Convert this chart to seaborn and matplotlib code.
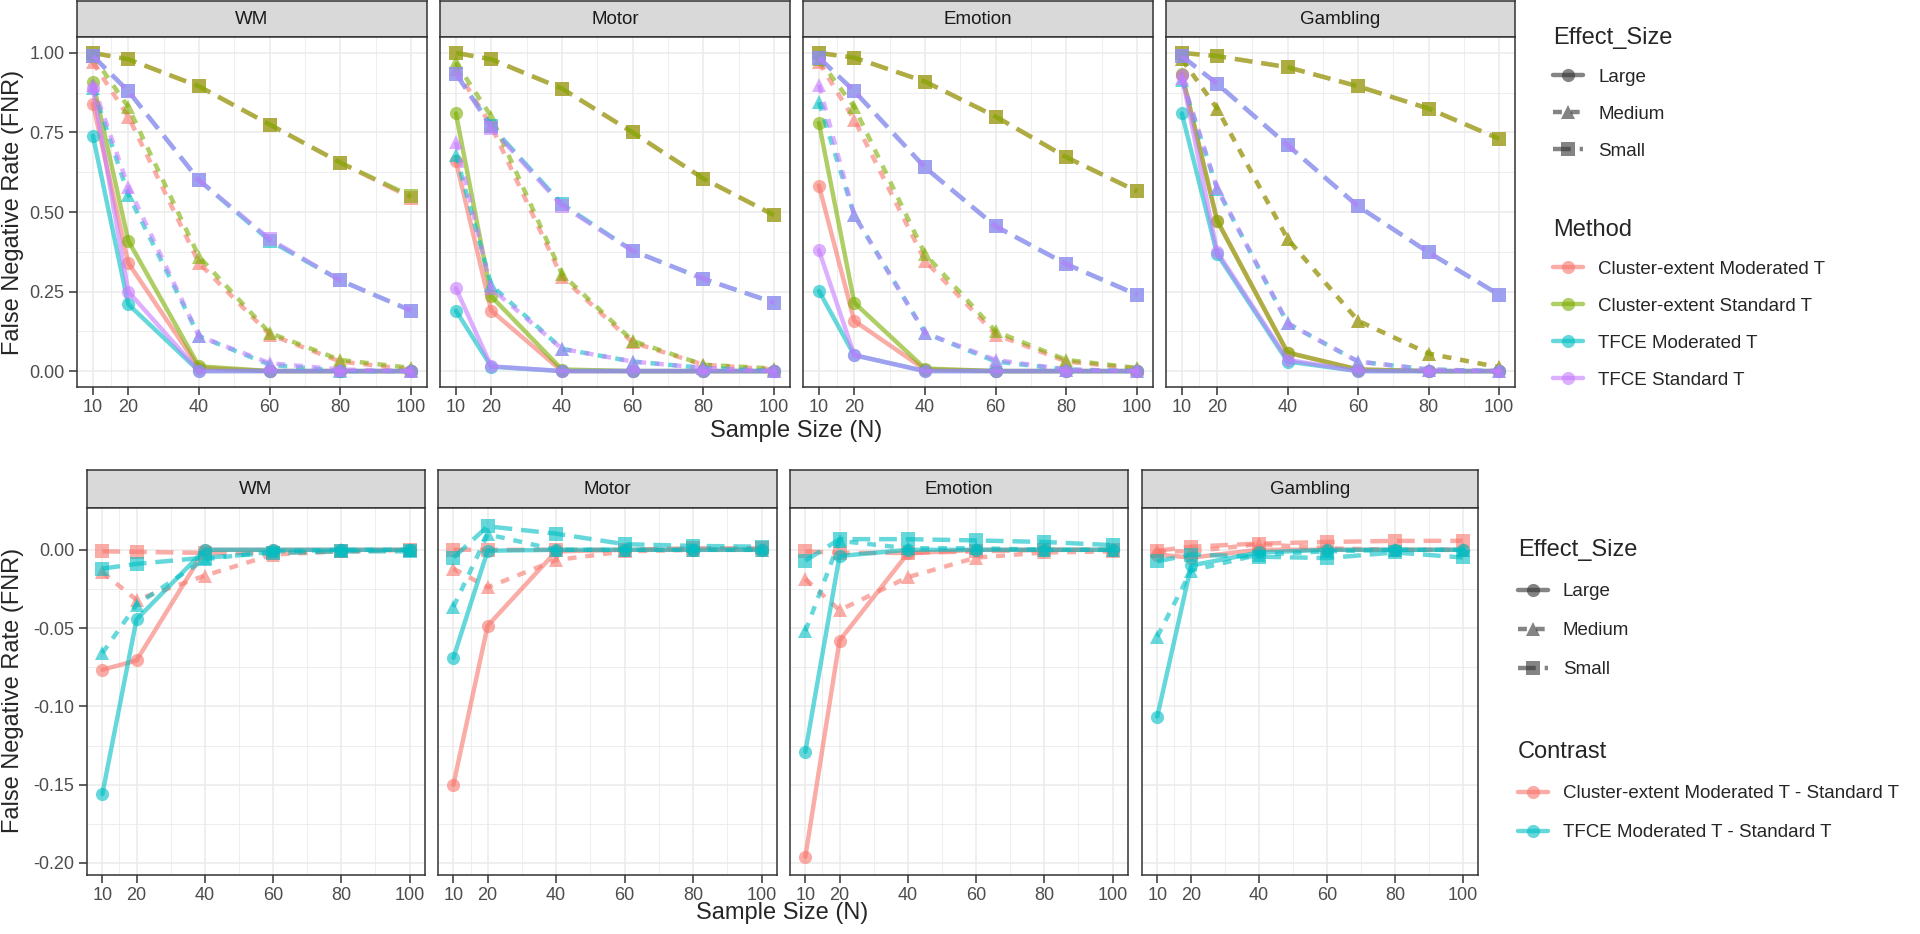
import numpy as np
import pandas as pd
import matplotlib
matplotlib.use("Agg")
import matplotlib.pyplot as plt
from matplotlib.lines import Line2D
from matplotlib.ticker import FixedLocator, FormatStrFormatter
import seaborn as sns

sample_sizes = [10, 20, 40, 60, 80, 100]
tasks = ["WM", "Motor", "Emotion", "Gambling"]
effect_sizes = ["Large", "Medium", "Small"]
methods = ["Cluster-extent Moderated T", "Cluster-extent Standard T",
           "TFCE Moderated T", "TFCE Standard T"]
contrasts = ["Cluster-extent Moderated T - Standard T",
             "TFCE Moderated T - Standard T"]

# FNR, one row per method (same order as `methods`)
wm_large = [[0.84, 0.34, 0.01, 0.0, 0.0, 0.0],
            [0.91, 0.41, 0.015, 0.0, 0.0, 0.0],
            [0.74, 0.21, 0.0, 0.0, 0.0, 0.0],
            [0.89, 0.25, 0.0, 0.0, 0.0, 0.0]]
wm_medium = [[0.97, 0.80, 0.34, 0.115, 0.03, 0.005],
             [0.99, 0.83, 0.36, 0.12, 0.035, 0.01],
             [0.89, 0.555, 0.11, 0.02, 0.0, 0.0],
             [0.90, 0.58, 0.11, 0.025, 0.005, 0.0]]
wm_small = [[1.00, 0.98, 0.895, 0.775, 0.655, 0.545],
            [1.00, 0.98, 0.895, 0.775, 0.655, 0.55],
            [0.99, 0.88, 0.60, 0.41, 0.285, 0.19],
            [0.99, 0.88, 0.60, 0.415, 0.285, 0.19]]

motor_large = [[0.66, 0.19, 0.0, 0.0, 0.0, 0.0],
               [0.81, 0.235, 0.005, 0.0, 0.0, 0.0],
               [0.19, 0.014, 0.0, 0.0, 0.0, 0.0],
               [0.26, 0.015, 0.0, 0.0, 0.0, 0.0]]
motor_medium = [[0.95, 0.77, 0.295, 0.09, 0.02, 0.005],
                [0.97, 0.80, 0.305, 0.095, 0.02, 0.008],
                [0.68, 0.27, 0.07, 0.03, 0.01, 0.0],
                [0.72, 0.26, 0.07, 0.03, 0.01, 0.0]]
motor_small = [[1.00, 0.98, 0.888, 0.75, 0.605, 0.49],
               [1.00, 0.98, 0.888, 0.75, 0.605, 0.49],
               [0.935, 0.77, 0.525, 0.378, 0.29, 0.215],
               [0.935, 0.765, 0.52, 0.378, 0.29, 0.215]]

emotion_large = [[0.583, 0.158, 0.005, 0.0, 0.0, 0.0],
                 [0.78, 0.215, 0.008, 0.0, 0.0, 0.0],
                 [0.252, 0.05, 0.0, 0.0, 0.0, 0.0],
                 [0.38, 0.05, 0.0, 0.0, 0.0, 0.0]]
emotion_medium = [[0.97, 0.79, 0.347, 0.115, 0.03, 0.008],
                  [0.98, 0.83, 0.368, 0.125, 0.035, 0.01],
                  [0.845, 0.49, 0.12, 0.03, 0.005, 0.0],
                  [0.90, 0.49, 0.12, 0.035, 0.005, 0.0]]
emotion_small = [[1.00, 0.985, 0.91, 0.80, 0.672, 0.565],
                 [1.00, 0.985, 0.91, 0.80, 0.672, 0.565],
                 [0.985, 0.88, 0.64, 0.455, 0.336, 0.24],
                 [0.985, 0.88, 0.64, 0.455, 0.336, 0.24]]

gambling_large = [[0.93, 0.473, 0.058, 0.005, 0.0, 0.0],
                  [0.935, 0.473, 0.058, 0.005, 0.0, 0.0],
                  [0.81, 0.368, 0.03, 0.0, 0.0, 0.0],
                  [0.93, 0.375, 0.035, 0.0, 0.0, 0.0]]
gambling_medium = [[0.98, 0.825, 0.415, 0.158, 0.055, 0.012],
                   [0.98, 0.825, 0.415, 0.158, 0.055, 0.012],
                   [0.915, 0.573, 0.15, 0.03, 0.005, 0.0],
                   [0.92, 0.575, 0.15, 0.03, 0.005, 0.0]]
gambling_small = [[1.00, 0.99, 0.955, 0.895, 0.825, 0.73],
                  [1.00, 0.99, 0.955, 0.895, 0.825, 0.73],
                  [0.99, 0.903, 0.71, 0.518, 0.373, 0.24],
                  [0.99, 0.903, 0.71, 0.518, 0.373, 0.24]]

# FNR differences, one row per contrast
wm_diff_large = [[-0.0766, -0.0707, 0.0, 0.0, 0.0, 0.0],
                 [-0.156, -0.0445, 0.0, 0.0, 0.0, 0.0]]
wm_diff_medium = [[-0.0143, -0.032, -0.0165, -0.003, -0.001, 0.0],
                  [-0.066, -0.035, -0.006, -0.001, 0.0, 0.0]]
wm_diff_small = [[-0.001, -0.0013, -0.002, -0.002, -0.001, 0.0],
                 [-0.012, -0.009, -0.005, -0.002, -0.001, -0.001]]

motor_diff_large = [[-0.150, -0.0485, -0.001, 0.0, 0.0, 0.0],
                    [-0.069, -0.0006, 0.0, 0.0, 0.0, 0.0]]
motor_diff_medium = [[-0.012, -0.024, -0.0065, -0.001, 0.0, 0.0],
                     [-0.0365, 0.0099, 0.0, 0.0, 0.0, 0.0]]
motor_diff_small = [[0.0, 0.0, 0.0, 0.0, 0.001, 0.001],
                    [-0.005, 0.015, 0.0103, 0.0036, 0.0025, 0.002]]

emotion_diff_large = [[-0.196, -0.058, -0.0023, 0.0, 0.0, 0.0],
                      [-0.129, -0.004, 0.0, 0.0, 0.0, 0.0]]
emotion_diff_medium = [[-0.0186, -0.0386, -0.0175, -0.005, -0.0017, -0.001],
                       [-0.052, 0.0057, 0.001, 0.001, 0.0, 0.0]]
emotion_diff_small = [[-0.001, -0.002, -0.002, -0.001, 0.0, 0.0],
                      [-0.007, 0.0068, 0.0068, 0.006, 0.005, 0.003]]

gambling_diff_large = [[-0.003, -0.005, 0.0, 0.0, 0.0, 0.0],
                       [-0.1065, -0.010, -0.0017, 0.0, 0.0, 0.0]]
gambling_diff_medium = [[-0.001, -0.001, 0.0036, 0.001, 0.0, 0.0],
                        [-0.0555, -0.0133, -0.003, -0.001, 0.0, 0.0]]
gambling_diff_small = [[-0.0006, 0.002, 0.004, 0.005, 0.0057, 0.0057],
                       [-0.0074, -0.003, -0.0044, -0.0053, -0.0017, -0.0049]]

top_blocks = {"WM": [wm_large, wm_medium, wm_small],
              "Motor": [motor_large, motor_medium, motor_small],
              "Emotion": [emotion_large, emotion_medium, emotion_small],
              "Gambling": [gambling_large, gambling_medium, gambling_small]}
bottom_blocks = {"WM": [wm_diff_large, wm_diff_medium, wm_diff_small],
                 "Motor": [motor_diff_large, motor_diff_medium, motor_diff_small],
                 "Emotion": [emotion_diff_large, emotion_diff_medium, emotion_diff_small],
                 "Gambling": [gambling_diff_large, gambling_diff_medium, gambling_diff_small]}


def to_long(blocks, groups, group_col):
    rows = []
    for task in tasks:
        for eff, block in zip(effect_sizes, blocks[task]):
            for grp, vals in zip(groups, block):
                for n, v in zip(sample_sizes, vals):
                    rows.append({"Task": task, "Effect_Size": eff, group_col: grp,
                                 "N": n, "FNR": v})
    return pd.DataFrame(rows)


top_df = to_long(top_blocks, methods, "Method")
bot_df = to_long(bottom_blocks, contrasts, "Contrast")

sns.set_theme(style="white")
plt.rcParams["font.family"] = ["Liberation Sans", "DejaVu Sans"]
plt.rcParams["axes.unicode_minus"] = False

method_colors = ["#F8766D", "#7CAE00", "#00BFC4", "#C77CFF"]
contrast_colors = ["#F8766D", "#00BFC4"]
markers = ["o", "^", "s"]
dashes = ["", (2, 2), (4, 2)]
ALPHA = 0.6
LW = 3.2
MS = 9.5

W, H = 1920, 934
fig = plt.figure(figsize=(W / 100, H / 100), dpi=100)


def rect(x0, y0, x1, y1):
    return [x0 / W, 1 - y1 / H, (x1 - x0) / W, (y1 - y0) / H]


def add_strip(x0, x1, y0, y1, label):
    s = fig.add_axes(rect(x0, y0, x1, y1))
    s.set_facecolor("#D9D9D9")
    s.set_xticks([])
    s.set_yticks([])
    for sp in s.spines.values():
        sp.set_color("#333333")
        sp.set_linewidth(1.1)
    s.text(0.5, 0.5, label, ha="center", va="center", fontsize=13.5, color="#1A1A1A",
           transform=s.transAxes)


def style_panel(ax, yticks, yminor, ylim, show_y):
    ax.set_xlim(5.5, 104.5)
    ax.set_ylim(*ylim)
    ax.xaxis.set_major_locator(FixedLocator(sample_sizes))
    ax.xaxis.set_minor_locator(FixedLocator([15, 30, 50, 70, 90]))
    ax.yaxis.set_major_locator(FixedLocator(yticks))
    ax.yaxis.set_minor_locator(FixedLocator(yminor))
    ax.yaxis.set_major_formatter(FormatStrFormatter("%.2f"))
    ax.grid(True, which="major", color="#EBEBEB", lw=1.1)
    ax.grid(True, which="minor", color="#EBEBEB", lw=0.6)
    ax.set_axisbelow(True)
    ax.tick_params(which="major", length=6, width=1.1, color="#333333",
                   labelsize=13, labelcolor="#4D4D4D", pad=3, left=True, bottom=True)
    ax.tick_params(which="minor", length=0)
    if not show_y:
        ax.tick_params(axis="y", left=False, labelleft=False)
    for sp in ax.spines.values():
        sp.set_color("#333333")
        sp.set_linewidth(1.1)
    ax.set_xlabel("")
    ax.set_ylabel("")


top_x = [(77, 427), (440, 790), (803, 1153), (1166, 1515)]
bot_x = [(87, 425), (438, 777), (790, 1128), (1142, 1478)]

for i, task in enumerate(tasks):
    x0, x1 = top_x[i]
    add_strip(x0, x1, 1, 37, task)
    ax = fig.add_axes(rect(x0, 37, x1, 387))
    sns.lineplot(data=top_df[top_df.Task == task], x="N", y="FNR",
                 hue="Method", hue_order=methods, palette=method_colors,
                 style="Effect_Size", style_order=effect_sizes,
                 markers=markers, dashes=dashes, alpha=ALPHA, lw=LW,
                 markersize=MS, markeredgewidth=0, errorbar=None,
                 legend=False, ax=ax)
    style_panel(ax, [0, 0.25, 0.5, 0.75, 1.0], [0.125, 0.375, 0.625, 0.875],
                (-0.05, 1.05), i == 0)

    x0, x1 = bot_x[i]
    add_strip(x0, x1, 470, 508, task)
    ax = fig.add_axes(rect(x0, 508, x1, 875))
    sns.lineplot(data=bot_df[bot_df.Task == task], x="N", y="FNR",
                 hue="Contrast", hue_order=contrasts, palette=contrast_colors,
                 style="Effect_Size", style_order=effect_sizes,
                 markers=markers, dashes=dashes, alpha=ALPHA, lw=LW,
                 markersize=MS, markeredgewidth=0, errorbar=None,
                 legend=False, ax=ax)
    style_panel(ax, [-0.2, -0.15, -0.1, -0.05, 0.0],
                [-0.175, -0.125, -0.075, -0.025], (-0.2077, 0.0267), i == 0)

fig.text(796 / W, 1 - 431 / H, "Sample Size (N)", ha="center", va="center", fontsize=17)
fig.text(782 / W, 1 - 913 / H, "Sample Size (N)", ha="center", va="center", fontsize=17)
fig.text(13 / W, 1 - 212 / H, "False Negative Rate (FNR)", rotation=90,
         ha="center", va="center", fontsize=17)
fig.text(13 / W, 1 - 690 / H, "False Negative Rate (FNR)", rotation=90,
         ha="center", va="center", fontsize=17)


def effect_handles():
    return [Line2D([], [], color="#333333", alpha=ALPHA, lw=LW, marker=m, ms=MS,
                   mew=0, dashes=d if d else (None, None))
            for m, d in zip(markers, dashes)]


def color_handles(cols):
    return [Line2D([], [], color=c, alpha=ALPHA, lw=LW, marker="o", ms=MS, mew=0)
            for c in cols]


leg_kw = dict(loc="upper left", frameon=False, fontsize=13.5, title_fontsize=17,
              alignment="left", handlelength=1.6, handletextpad=0.8,
              borderpad=0, borderaxespad=0)

fig.legend(effect_handles(), effect_sizes, title="Effect_Size", labelspacing=1.06,
           bbox_to_anchor=(1553 / W, 1 - 27 / H), **leg_kw)
fig.legend(color_handles(method_colors), methods, title="Method", labelspacing=1.06,
           bbox_to_anchor=(1553 / W, 1 - 219 / H), **leg_kw)
fig.legend(effect_handles(), effect_sizes, title="Effect_Size", labelspacing=1.17,
           bbox_to_anchor=(1518 / W, 1 - 539 / H), **leg_kw)
fig.legend(color_handles(contrast_colors), contrasts, title="Contrast", labelspacing=1.17,
           bbox_to_anchor=(1518 / W, 1 - 741 / H), **leg_kw)

fig.savefig("out.png", dpi=100, facecolor="white")
